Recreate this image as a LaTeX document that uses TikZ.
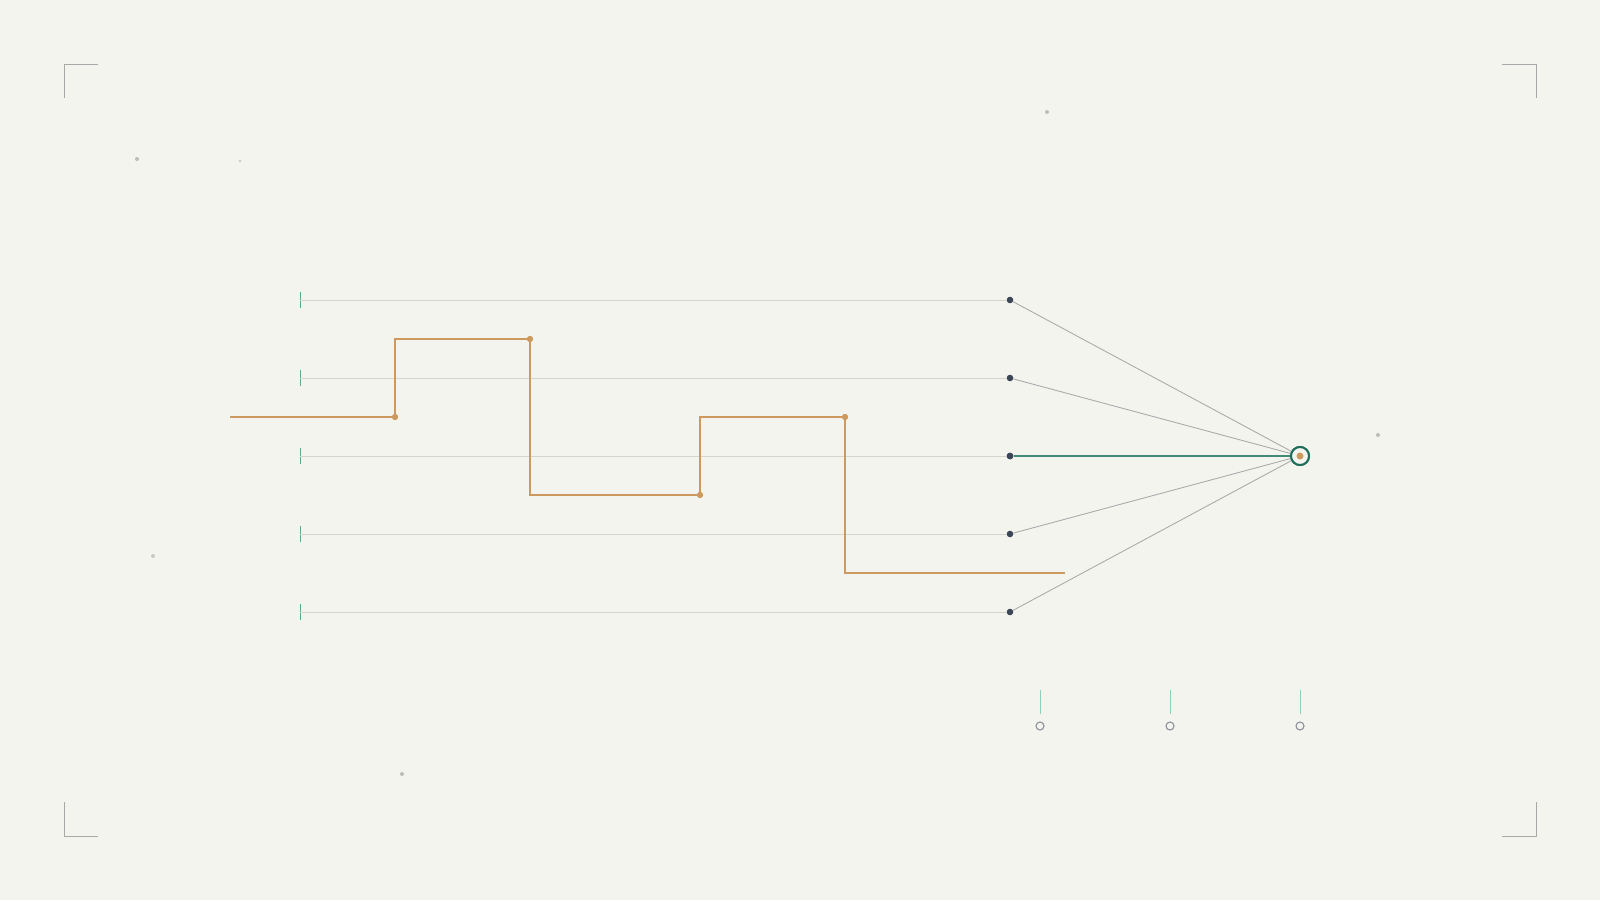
\documentclass[tikz,border=0pt]{standalone}
\begin{document}
\begin{tikzpicture}[x=1pt,y=-1pt,
  rowline/.style={draw=rowgray,line width=0.9pt},
  fanline/.style={draw=fangray,line width=0.9pt},
  tealtick/.style={draw=tickteal,line width=0.9pt},
  orangepath/.style={draw=ochre,line width=1.4pt},
  corner/.style={draw=cornergray,line width=1pt},
  darkdot/.style={circle,fill=slate,inner sep=0pt,minimum size=6.6pt},
  odot/.style={circle,fill=ochre,inner sep=0pt,minimum size=6pt},
  speck/.style={circle,fill=speckgray,inner sep=0pt,minimum size=4pt},
  ring/.style={circle,draw=ringgray,line width=1.1pt,fill=bg,inner sep=0pt,minimum size=8pt},
  btick/.style={draw=lightteal,line width=1pt}]
\definecolor{bg}{HTML}{F4F4EF}
\definecolor{rowgray}{HTML}{D6D4CD}
\definecolor{fangray}{HTML}{ABABAB}
\definecolor{tickteal}{HTML}{5BAA92}
\definecolor{deepteal}{HTML}{1F6E5C}
\definecolor{mainteal}{HTML}{3E8C78}
\definecolor{ochre}{HTML}{CC9A5E}
\definecolor{slate}{HTML}{3B4656}
\definecolor{cornergray}{HTML}{A8A8A8}
\definecolor{speckgray}{HTML}{BDBDB7}
\definecolor{ringgray}{HTML}{8C909A}
\definecolor{lightteal}{HTML}{8ED0C0}
\fill[bg] (0,0) rectangle (1600,900);
\useasboundingbox (0,0) rectangle (1600,900);
% corners
\draw[corner] (64,98) -- (64,64) -- (98,64);
\draw[corner] (1502,64) -- (1536,64) -- (1536,98);
\draw[corner] (64,802) -- (64,836) -- (98,836);
\draw[corner] (1502,836) -- (1536,836) -- (1536,802);
% specks
\node[speck] (s1) at (137,159) {};
\node[speck,minimum size=3.4pt,fill=speckgray!70] (s2) at (240,161) {};
\node[speck] (s3) at (1047,112) {};
\node[speck] (s4) at (1378,435) {};
\node[speck,fill=speckgray!80] (s5) at (153,556) {};
\node[speck] (s6) at (402,774) {};
% target
\node[circle,draw=deepteal,line width=2pt,fill=bg,inner sep=0pt,minimum size=18pt] (T) at (1300,456) {};
% rows
\foreach \i/\y in {1/300,2/378,3/456,4/534,5/612}{
  \coordinate (L\i) at (300,\y);
  \node[darkdot] (D\i) at (1010,\y) {};
  \draw[tealtick] (300,\y-8) -- (300,\y+8);
  \draw[rowline] (L\i) -- (D\i);
}
\foreach \i in {1,2,4,5}{ \draw[fanline] (D\i) -- (T); }
\draw[draw=mainteal,line width=1.6pt] (D3) -- (T);
\node[darkdot] at (D3) {};
\node[circle,draw=deepteal,line width=2pt,fill=bg,inner sep=0pt,minimum size=18pt] at (T) {};
\node[odot,minimum size=7pt] (Tc) at (T) {};
% orange step path
\coordinate (O0) at (230,417);
\node[odot] (O1) at (395,417) {};
\node[odot] (O2) at (530,339) {};
\node[odot] (O3) at (700,495) {};
\node[odot] (O4) at (845,417) {};
\coordinate (O5) at (1065,573);
\draw[orangepath] (O0) -- (O1.center) |- (O2.center) |- (O3.center) |- (O4.center) |- (O5);
\foreach \n in {O1,O2,O3,O4}{ \node[odot] at (\n) {}; }
% bottom markers
\foreach \j/\x in {1/1040,2/1170,3/1300}{
  \coordinate (B\j) at (\x,690);
  \node[ring] (R\j) at (\x,726) {};
  \draw[btick] (B\j) -- (\x,714);
}
\end{tikzpicture}
\end{document}
